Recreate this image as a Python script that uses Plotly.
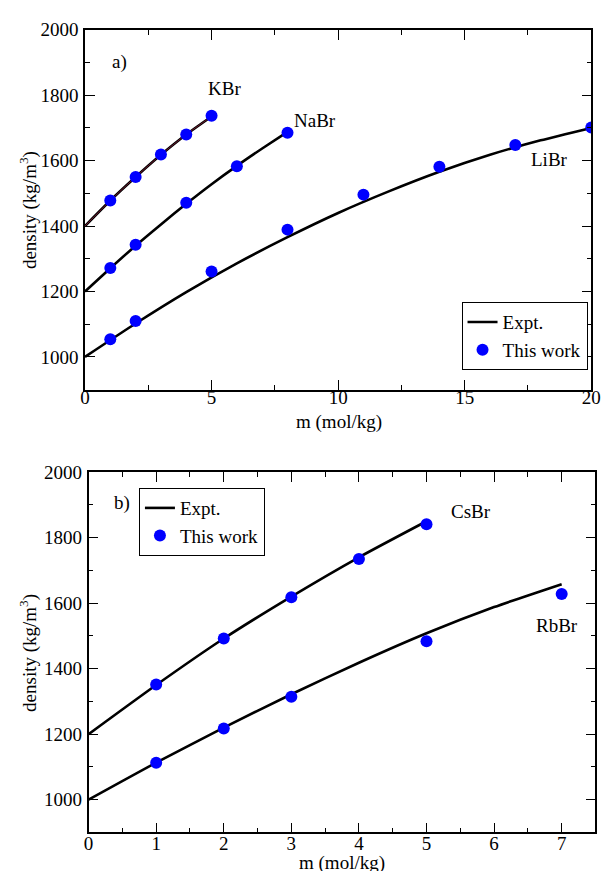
import plotly.graph_objects as go

# ---------------- data ----------------
# panel a)
kbr_expt_m = [0, 1, 2, 3, 4, 5]
kbr_expt_d = [1400, 1478, 1550, 1618, 1680, 1735]
kbr_sim_m = [1, 2, 3, 4, 5]
kbr_sim_d = [1478, 1550, 1619, 1680, 1737]

nabr_expt_m = [0, 1, 2, 3, 4, 5, 6, 7, 8]
nabr_expt_d = [1200, 1271, 1340, 1405, 1468, 1528, 1584, 1637, 1688]
nabr_sim_m = [1, 2, 4, 6, 8]
nabr_sim_d = [1272, 1343, 1471, 1583, 1685]

libr_expt_m = [0, 2, 4, 6, 8, 10, 12, 14, 16, 18, 20]
libr_expt_d = [1000, 1102, 1198, 1286, 1366, 1440, 1506, 1566, 1618, 1662, 1700]
libr_sim_m = [1, 2, 5, 8, 11, 14, 17, 20]
libr_sim_d = [1054, 1110, 1261, 1389, 1496, 1581, 1648, 1701]

# panel b)
csbr_expt_m = [0, 1, 2, 3, 4, 5]
csbr_expt_d = [1200, 1350, 1492, 1620, 1740, 1850]
csbr_sim_m = [1, 2, 3, 4, 5]
csbr_sim_d = [1352, 1492, 1618, 1735, 1841]

rbbr_expt_m = [0, 1, 2, 3, 4, 5, 6, 7]
rbbr_expt_d = [1000, 1113, 1220, 1322, 1418, 1508, 1588, 1658]
rbbr_sim_m = [1, 2, 3, 5, 7]
rbbr_sim_d = [1113, 1217, 1314, 1484, 1628]

X_TITLE = "m (mol/kg)"
Y_TITLE = "density (kg/m<sup>3</sup>)"

FONT = "Liberation Serif, Times New Roman, Times, serif"
BLUE = "#0000ff"

fig = go.Figure()

def expt(m, d, xa, ya, legend, show, color="black"):
    fig.add_trace(go.Scatter(x=m, y=d, mode="lines", name="Expt.",
                             line=dict(color=color, width=2.6, shape="spline", smoothing=0.6),
                             xaxis=xa, yaxis=ya, legend=legend, showlegend=show))

def sim(m, d, xa, ya, legend, show):
    fig.add_trace(go.Scatter(x=m, y=d, mode="markers", name="This work",
                             marker=dict(color=BLUE, size=12, line=dict(width=0)),
                             xaxis=xa, yaxis=ya, legend=legend, showlegend=show))

# top panel
expt(kbr_expt_m, kbr_expt_d, "x", "y", "legend", True)
fig.add_trace(go.Scatter(x=kbr_expt_m, y=kbr_expt_d, mode="lines",
                         line=dict(color="#8a2038", width=0.8, shape="spline", smoothing=0.6),
                         showlegend=False, hoverinfo="skip"))
expt(nabr_expt_m, nabr_expt_d, "x", "y", "legend", False)
expt(libr_expt_m, libr_expt_d, "x", "y", "legend", False)
sim(kbr_sim_m, kbr_sim_d, "x", "y", "legend", True)
sim(nabr_sim_m, nabr_sim_d, "x", "y", "legend", False)
sim(libr_sim_m, libr_sim_d, "x", "y", "legend", False)

# bottom panel
expt(csbr_expt_m, csbr_expt_d, "x2", "y2", "legend2", True)
expt(rbbr_expt_m, rbbr_expt_d, "x2", "y2", "legend2", False)
sim(csbr_sim_m, csbr_sim_d, "x2", "y2", "legend2", True)
sim(rbbr_sim_m, rbbr_sim_d, "x2", "y2", "legend2", False)

W, H = 612, 871
tickfont = dict(family=FONT, size=19, color="black")

def xax(dom, dtick, minor, rng, standoff):
    return dict(domain=dom, range=rng, dtick=dtick, tick0=0, ticks="inside", ticklen=10,
                tickwidth=1, tickcolor="black", mirror="ticks", showline=True,
                linecolor="black", linewidth=1.5, showgrid=False, zeroline=False,
                tickfont=tickfont, ticklabelstandoff=standoff,
                minor=dict(ticks="inside", ticklen=5, dtick=minor, tickcolor="black", showgrid=False))

def yax(dom, anchor):
    return dict(domain=dom, range=[900, 2000], dtick=200, tick0=1000, ticks="inside", ticklen=10,
                tickwidth=1, tickcolor="black", mirror="ticks", showline=True,
                linecolor="black", linewidth=1.5, showgrid=False, zeroline=False,
                tickfont=tickfont, anchor=anchor, ticklabelstandoff=1,
                minor=dict(ticks="inside", ticklen=5, dtick=100, tickcolor="black", showgrid=False))

legfont = dict(family=FONT, size=19, color="black")
fig.update_layout(
    width=W, height=H, margin=dict(l=0, r=0, t=0, b=0),
    paper_bgcolor="white", plot_bgcolor="white",
    xaxis=xax([82 / W, 601 / W], 5, 2.5, [0, 20], -10),
    yaxis=yax([1 - 384 / H, 1 - 20 / H], "x"),
    xaxis2=dict(xax([85.7 / W, 605.3 / W], 1, 0.5, [0, 7.5], -7), anchor="y2"),
    yaxis2=yax([1 - 832 / H, 1 - 467.5 / H], "x2"),
    legend=dict(x=468 / W, y=1 - 330 / H, xanchor="left", yanchor="middle",
                bordercolor="black", borderwidth=1, bgcolor="white",
                font=legfont, itemwidth=30, tracegroupgap=0),
    legend2=dict(x=137.3 / W, y=1 - 518 / H, xanchor="left", yanchor="middle",
                 bordercolor="black", borderwidth=1, bgcolor="white",
                 font=legfont, itemwidth=30, tracegroupgap=0),
    font=dict(family=FONT, color="black"),
)

# axis titles
titles = [
    (X_TITLE, 342 / W, 1 - 417 / H, 0),
    (X_TITLE, 345.5 / W, 1 - 863 / H, 0),
    (Y_TITLE, 24 / W, 1 - 202 / H, -90),
    (Y_TITLE, 24 / W, 1 - 650 / H, -90),
]
for txt, px, py, ang in titles:
    fig.add_annotation(text=txt, x=px, y=py, xref="paper", yref="paper", showarrow=False,
                       textangle=ang, xanchor="center", yanchor="middle",
                       font=dict(family=FONT, size=19, color="black"))

labels = [
    ("a)", 1.35, 1903, "x", "y"),
    ("KBr", 5.51, 1819, "x", "y"),
    ("NaBr", 9.09, 1722, "x", "y"),
    ("LiBr", 18.35, 1604, "x", "y"),
    ("b)", 0.495, 1905, "x2", "y2"),
    ("CsBr", 5.66, 1881, "x2", "y2"),
    ("RbBr", 6.93, 1532, "x2", "y2"),
]
for txt, ax, ay, xr, yr in labels:
    fig.add_annotation(text=txt, x=ax, y=ay, xref=xr, yref=yr, showarrow=False,
                       font=dict(family=FONT, size=19, color="black"))

fig.write_html("out.html")
